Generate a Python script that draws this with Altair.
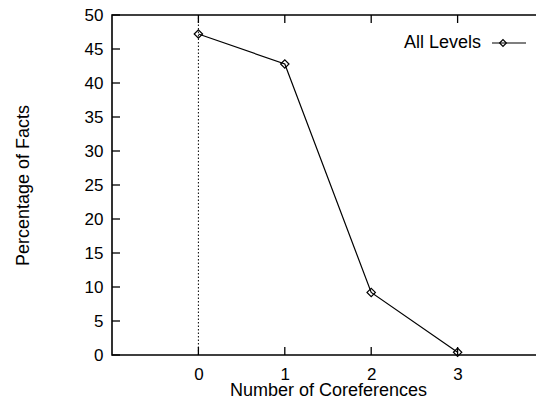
import altair as alt
import pandas as pd

series_name = "All Levels"
coref = [0, 1, 2, 3]
percent = [47.2, 42.8, 9.2, 0.4]
x_ticks = [0, 1, 2, 3, 4]
x_minor = [0, 1, 2, 3]
y_ticks = [0, 5, 10, 15, 20, 25, 30, 35, 40, 45, 50]
x_title = "Number of Coreferences"
y_title = "Percentage of Facts"

W, H = 432, 340
FONT = "Liberation Sans"
TICK = 8

df = pd.DataFrame({"x": coref, "y": percent, "series": series_name})
xt = pd.DataFrame({"x": x_minor})
yt = pd.DataFrame({"y": y_ticks})
zero = pd.DataFrame({"x": [0], "y": [0], "y2": [50]})
leg = pd.DataFrame({"series": [series_name]})

xs = alt.Scale(domain=[-1, 4], nice=False, zero=False)
ys = alt.Scale(domain=[0, 50], nice=False)

xaxis = alt.Axis(values=x_ticks, title=x_title, ticks=False, tickSize=0, domain=False,
                 grid=False, labelFontSize=17, titleFontSize=18, labelPadding=11,
                 titlePadding=-1, labelFont=FONT, titleFont=FONT, titleFontWeight="normal",
                 labelColor="black", titleColor="black", format="d", labelFlush=False,
                 labelOverlap=False)
yaxis = alt.Axis(values=y_ticks, title=y_title, ticks=False, tickSize=0, domain=False,
                 grid=False, labelFontSize=17, titleFontSize=18, labelPadding=9,
                 titlePadding=52, labelFont=FONT, titleFont=FONT, titleFontWeight="normal",
                 labelColor="black", titleColor="black", format="d", labelFlush=False,
                 labelOverlap=False)

X = lambda: alt.X("x:Q", scale=xs, axis=xaxis, title=x_title)
Y = lambda: alt.Y("y:Q", scale=ys, axis=yaxis, title=y_title)

base = alt.Chart(df)

line = base.mark_line(color="black", strokeWidth=1.2).encode(x=X(), y=Y())
pts = base.mark_point(shape="diamond", filled=False, color="black", size=70,
                      strokeWidth=1.2, opacity=1).encode(x=X(), y=Y())

zline = alt.Chart(zero).mark_rule(color="black", strokeWidth=1, strokeDash=[1.5, 2]).encode(
    x=X(), y=Y(), y2="y2:Q"
)

yl = alt.Chart(yt).mark_rule(color="black", strokeWidth=1.3).encode(
    y=Y(), x=alt.value(0), x2=alt.value(TICK))
yr = alt.Chart(yt).mark_rule(color="black", strokeWidth=1.3).encode(
    y=Y(), x=alt.value(W - TICK), x2=alt.value(W))
xb = alt.Chart(xt).mark_rule(color="black", strokeWidth=1.3).encode(
    x=X(), y=alt.value(H - TICK), y2=alt.value(H))
xtp = alt.Chart(xt).mark_rule(color="black", strokeWidth=1.3).encode(
    x=X(), y=alt.value(0), y2=alt.value(TICK))

leg_text = alt.Chart(leg).mark_text(align="right", baseline="middle", fontSize=18,
                                    font=FONT, color="black").encode(
    text="series:N", x=alt.value(369), y=alt.value(28))
leg_line = alt.Chart(leg).mark_rule(color="black", strokeWidth=1.2).encode(
    x=alt.value(380), x2=alt.value(414), y=alt.value(28))
leg_pt = alt.Chart(leg).mark_point(shape="diamond", filled=False, color="black", size=45,
                                   strokeWidth=1.2, opacity=1).encode(
    x=alt.value(391), y=alt.value(28))

chart = alt.layer(line, zline, yl, yr, xb, xtp, pts, leg_text, leg_line, leg_pt).properties(
    width=W, height=H,
    autosize=alt.AutoSizeParams(type="none"),
    padding={"left": 104, "top": 7, "right": -8, "bottom": 43},
).configure(
    background="white",
    view=alt.ViewConfig(stroke="black", strokeWidth=1.6),
)

chart.save("out.html", embed_options={"renderer": "svg", "actions": False})
